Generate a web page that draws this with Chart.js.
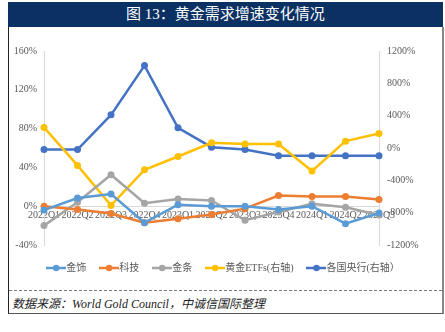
<!DOCTYPE html>
<html>
<head>
<meta charset="utf-8">
<script src="https://cdn.jsdelivr.net/npm/chart.js@4/dist/chart.umd.min.js"></script>
<style>
  body { margin: 0; background: #fff; width: 445px; height: 332px; position: relative; overflow: hidden; }
  #header { position: absolute; left: 8px; top: 2px; width: 435px; height: 25px; background: #0b3162;
    color: #fff; font-family: "Liberation Serif", "Noto Sans CJK SC", serif; font-size: 15px; line-height: 25px; text-align: center; }
  #frame { position: absolute; left: 8px; top: 27px; width: 433px; height: 286px;
    border-left: 1px solid #222; border-right: 2px solid #888; border-bottom: 1px solid #555; }
  #sep { position: absolute; left: 9px; top: 290px; width: 433px; border-top: 1px dashed #777; }
  #source { position: absolute; left: 12px; top: 294px; font-family: "Liberation Serif", "Noto Sans CJK SC", serif;
    font-style: italic; font-size: 12px; color: #222; }
  #wrap { position: absolute; left: 9px; top: 27px; width: 433px; height: 262px; }
</style>
</head>
<body>
<div id="header">图 13：黄金需求增速变化情况</div>
<div id="frame"></div>
<div id="sep"></div>
<div id="source">数据来源：World Gold Council，中诚信国际整理</div>
<div id="wrap"><canvas id="goldChart"></canvas></div>
<script>
// quarters
const quarters = ['2022Q1', '2022Q2', '2022Q3', '2022Q4', '2023Q1', '2023Q2', '2023Q3', '2023Q4', '2024Q1', '2024Q2', '2024Q3'];

// left axis series (%)
const jewelry = [-4, 8.5, 12.5, -17, 1.5, 0, 0, -3.5, 0, -18, -7];
const technology = [0, -3.5, -7.5, -17, -13, -8.5, -2.5, 11, 10, 10, 7];
const barCoin = [-20, 4, 32.5, 3, 7.5, 6, -14.5, -6, 2.5, -1, -9];

// right axis series (%)
const etfs = [255, -215, -710, -270, -105, 65, 50, 50, -285, 85, 180];
const centralBanks = [-20, -20, 410, 1020, 250, 10, -20, -95, -95, -95, -95];

const colors = ['#5B9BD5', '#ED7D31', '#A5A5A5', '#FFC000', '#4472C4'];
const serif = '"Liberation Serif", "Noto Sans CJK SC", serif';

// little line+dot icon for legend
function legendIcon(color) {
    const c = document.createElement('canvas');
    c.width = 20; c.height = 10;
    const g = c.getContext('2d');
    g.strokeStyle = color; g.lineWidth = 2.5;
    g.beginPath(); g.moveTo(0, 5); g.lineTo(20, 5); g.stroke();
    g.fillStyle = color;
    g.beginPath(); g.arc(10, 5, 3.2, 0, Math.PI * 2); g.fill();
    return c;
}

function series(label, data, color, axis) {
    return {
        label: label,
        data: data,
        yAxisID: axis,
        borderColor: color,
        backgroundColor: color,
        borderWidth: 2.5,
        pointRadius: 3.5,
        pointStyle: 'circle',
        pointBackgroundColor: color,
        pointBorderWidth: 0,
        tension: 0
    };
}

const ctx = document.getElementById('goldChart').getContext('2d');
const goldChart = new Chart(ctx, {
    type: 'line',
    data: {
        labels: quarters,
        datasets: [
            series('金饰', jewelry, colors[0], 'y'),
            series('科技', technology, colors[1], 'y'),
            series('金条', barCoin, colors[2], 'y'),
            series('黄金ETFs(右轴)', etfs, colors[3], 'y1'),
            series('各国央行(右轴）', centralBanks, colors[4], 'y1')
        ]
    },
    options: {
        responsive: true,
        maintainAspectRatio: false,
        animation: false,
        layout: { padding: { top: 24, bottom: 6, left: 0, right: 0 } },
        scales: {
            x: {
                position: { y: 0 },
                grid: { display: false, drawTicks: false },
                border: { color: '#d9d9d9', width: 1 },
                ticks: {
                    autoSkip: false, maxRotation: 0, minRotation: 0, padding: 3,
                    color: '#595959', font: { family: serif, size: 10 }
                }
            },
            y: {
                position: 'left',
                min: -40, max: 160,
                grid: { drawOnChartArea: false, tickLength: 0 },
                border: { color: '#d9d9d9' },
                afterFit: function (s) { s.width = 35; },
                ticks: {
                    stepSize: 40, padding: 7, color: '#595959',
                    font: { family: serif, size: 10 },
                    callback: function (v) { return v + '%'; }
                }
            },
            y1: {
                position: 'right',
                min: -1200, max: 1200,
                grid: { drawOnChartArea: false, tickLength: 0 },
                border: { color: '#d9d9d9' },
                afterFit: function (s) { s.width = 63; },
                ticks: {
                    stepSize: 400, padding: 8, color: '#595959',
                    font: { family: serif, size: 10 },
                    callback: function (v) { return v + '%'; }
                }
            }
        },
        plugins: {
            legend: {
                position: 'bottom',
                labels: {
                    usePointStyle: true,
                    boxWidth: 20, boxHeight: 10,
                    padding: 18,
                    color: '#595959',
                    font: { family: serif, size: 10 },
                    generateLabels: function (chart) {
                        const items = Chart.defaults.plugins.legend.labels.generateLabels(chart);
                        items.forEach(function (it, i) {
                            it.pointStyle = legendIcon(colors[i]);
                        });
                        return items;
                    }
                }
            },
            tooltip: { enabled: false }
        }
    }
});
</script>
</body>
</html>
